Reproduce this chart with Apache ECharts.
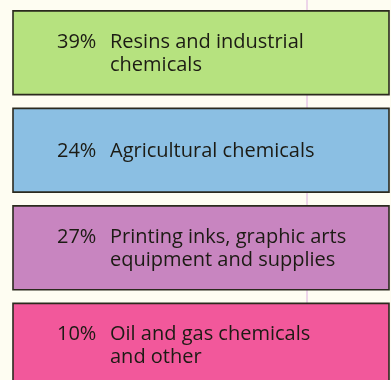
<!DOCTYPE html>
<html>
<head>
<meta charset="utf-8">
<script src="https://cdn.jsdelivr.net/npm/echarts@6/dist/echarts.min.js"></script>
<style>
html,body{margin:0;padding:0;background:#fefdf2;}
#chart{width:391px;height:380px;}
</style>
</head>
<body>
<div id="chart"></div>
<script>
const categories = [
  'Resins and industrial\nchemicals',
  'Agricultural chemicals',
  'Printing inks, graphic arts\nequipment and supplies',
  'Oil and gas chemicals\nand other'
];
const shares = [39, 24, 27, 10];
const boxColors = ['#b6e27f', '#8bbfe3', '#c885c0', '#f2589b'];

const chart = echarts.init(document.getElementById('chart'));
const FONT = '20px "Open Sans"';

chart.setOption({
  backgroundColor: '#fefdf2',
  animation: false,
  grid: { left: 13, right: 2, top: 4, height: 390, outerBoundsMode: 'none', containLabel: false },
  xAxis: { type: 'value', min: 0, max: 1, show: false },
  yAxis: { type: 'category', data: categories, inverse: true, show: false },
  graphic: [{
    type: 'line', z: 0, silent: true,
    shape: { x1: 307, y1: 0, x2: 307, y2: 380 },
    style: { stroke: '#dcaee0', lineWidth: 1 }
  }],
  series: [{
    type: 'custom',
    z: 2,
    data: shares.map((v, i) => ({ value: [i, v] })),
    encode: { y: 0 },
    renderItem: function (params, api) {
      const idx = api.value(0);
      const pct = api.value(1);
      const left = api.coord([0, idx]);
      const right = api.coord([1, idx]);
      const band = api.size([0, 1])[1];
      const h = band * 0.86;
      const y = left[1] - h / 2;
      const cy = left[1] + 1;
      return {
        type: 'group',
        children: [
          {
            type: 'rect',
            shape: { x: left[0], y: y, width: right[0] - left[0], height: h },
            style: { fill: boxColors[idx], stroke: '#2b2a1e', lineWidth: 1.6 }
          },
          {
            type: 'text',
            style: {
              text: pct + '%', x: left[0] + 44, y: cy - (categories[idx].indexOf('\n') >= 0 ? 11.5 : 0),
              fill: '#1c1b14', font: FONT, verticalAlign: 'middle', align: 'left'
            }
          },
          {
            type: 'text',
            style: {
              text: categories[idx], x: left[0] + 97, y: cy,
              fill: '#1c1b14', font: FONT, verticalAlign: 'middle', align: 'left', lineHeight: 23
            }
          }
        ]
      };
    }
  }]
});
</script>
</body>
</html>
